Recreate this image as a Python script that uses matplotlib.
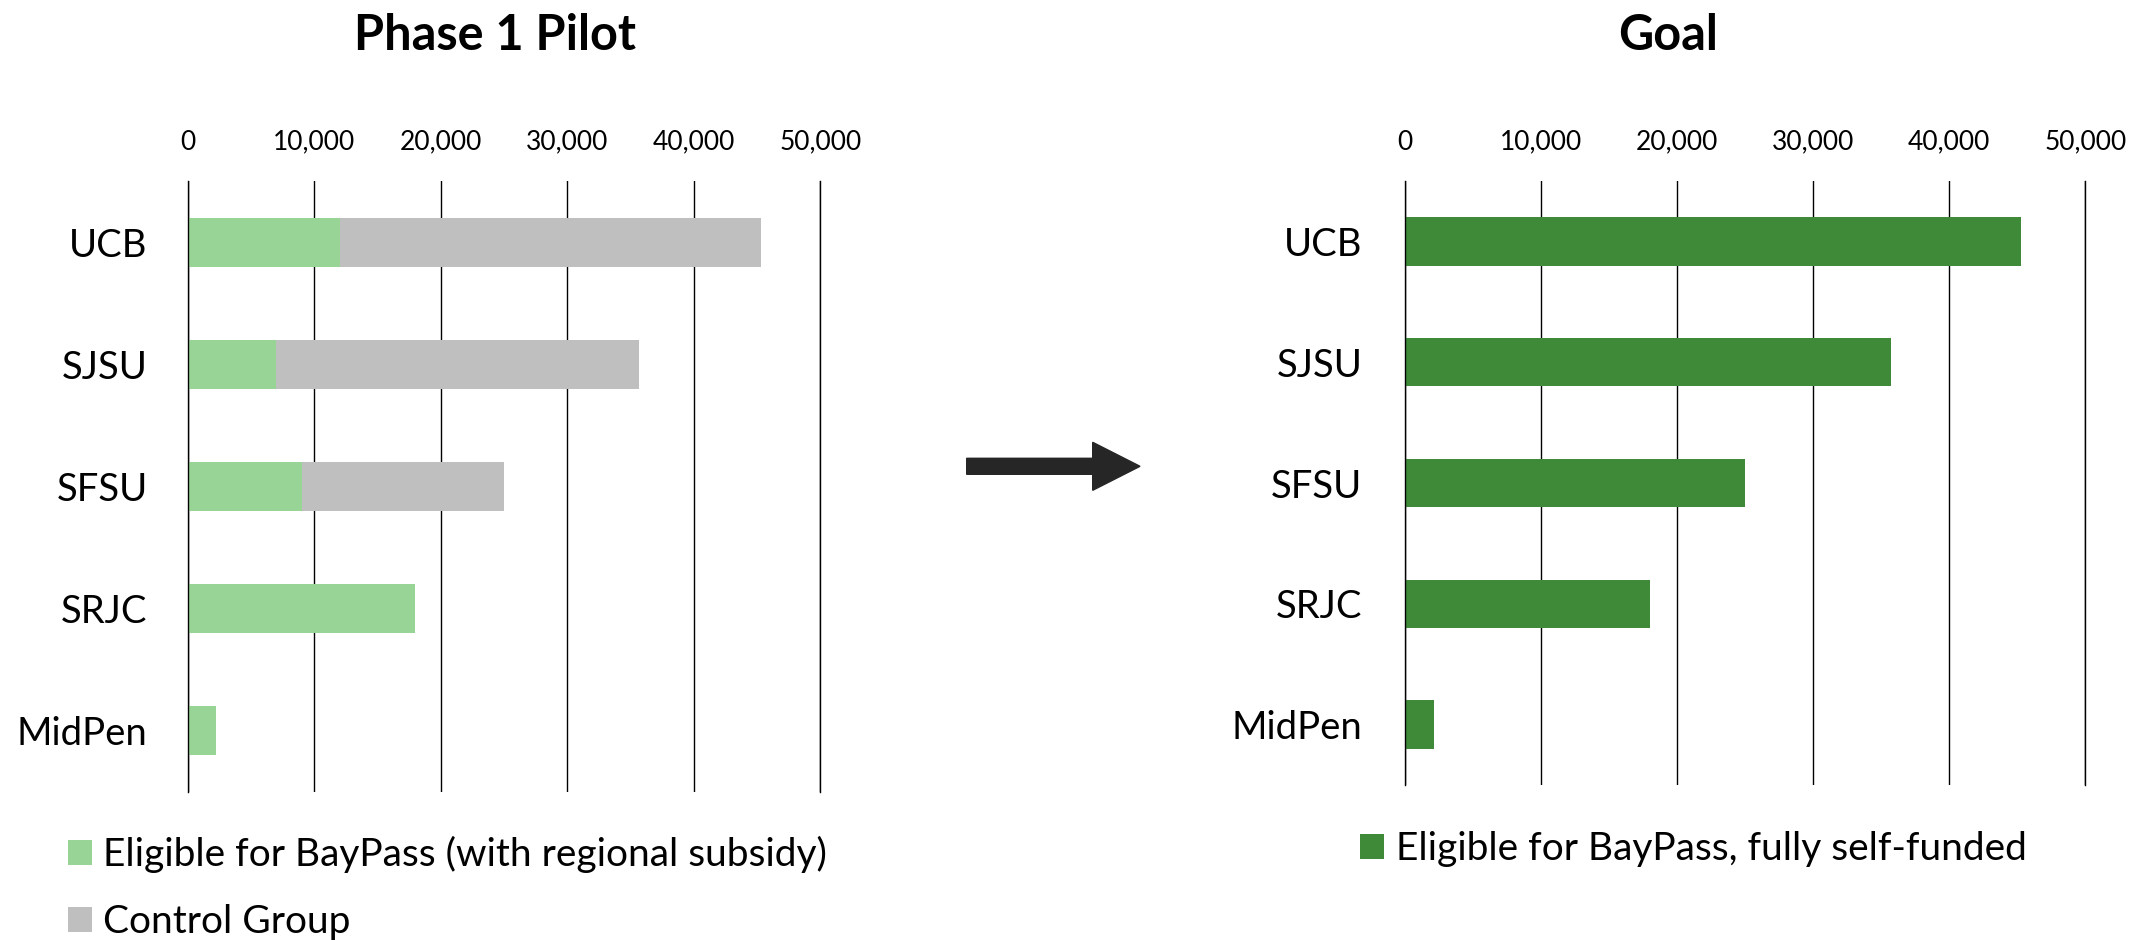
import matplotlib
matplotlib.use("Agg")
import matplotlib.pyplot as plt
from matplotlib.ticker import FuncFormatter
from matplotlib.patches import FancyArrow

plt.rcParams['font.family'] = ['Lato', 'DejaVu Sans']

# ---------------- data ----------------
categories = ["UCB", "SJSU", "SFSU", "SRJC", "MidPen"]
eligible_subsidy = [12000, 7000, 9000, 18000, 2200]
control_group = [33300, 28700, 16000, 0, 0]
eligible_self_funded = [45300, 35700, 25000, 18000, 2200]
x_ticks = [0, 10000, 20000, 30000, 40000, 50000]
titles = ["Phase 1 Pilot", "Goal"]
legend_left = ["Eligible for BayPass (with regional subsidy)", "Control Group"]
legend_right = ["Eligible for BayPass, fully self-funded"]

# ---------------- style ----------------
C_LIGHT = "#98D496"
C_GRAY = "#BFBFBF"
C_DARK = "#3E8A38"
W, H = 2134, 940
fig = plt.figure(figsize=(W / 100, H / 100), dpi=100)


def fx(px):
    return px / W


def fy(py):
    return 1 - py / H


def style_axes(ax, pad_px):
    ax.set_xlim(x_ticks[0], x_ticks[-1])
    ax.set_ylim(len(categories) - 0.5, -0.5)
    ax.set_xticks(x_ticks)
    ax.xaxis.set_major_formatter(FuncFormatter(lambda v, p: f"{v:,.0f}"))
    ax.xaxis.tick_top()
    ax.tick_params(axis='x', length=0, pad=19, labelsize=19, labelcolor='black')
    ax.set_yticks(range(len(categories)))
    ax.set_yticklabels(categories)
    ax.tick_params(axis='y', length=0, pad=pad_px * 0.72, labelsize=27.5)
    ax.grid(axis='x', color='black', linewidth=1.0)
    ax.set_axisbelow(True)
    for s in ['top', 'bottom']:
        ax.spines[s].set_visible(False)
    for s in ['left', 'right']:
        ax.spines[s].set_color('black')
        ax.spines[s].set_linewidth(1.0)
    ax.spines['right'].set_zorder(0.5)


# left panel
axL = fig.add_axes([fx(187.7), fy(792), fx(820.3 - 187.7), (792 - 181) / H])
b1 = axL.barh(categories, eligible_subsidy, height=0.4, color=C_LIGHT,
              label=legend_left[0])
b2 = axL.barh(categories, control_group, left=eligible_subsidy, height=0.4,
              color=C_GRAY, label=legend_left[1])
style_axes(axL, 40)

# right panel
axR = fig.add_axes([fx(1404.5), fy(785), fx(2085.4 - 1404.5), (785 - 181) / H])
b3 = axR.barh(categories, eligible_self_funded, height=0.4, color=C_DARK,
              label=legend_right[0])
style_axes(axR, 42)

# titles
fig.text(fx(495), fy(35), titles[0], fontsize=35, fontweight='bold',
         ha='center', va='center')
fig.text(fx(1668), fy(35), titles[1], fontsize=35, fontweight='bold',
         ha='center', va='center')

# legends
fs_leg = 28
fs_px = fs_leg / 0.72
leg1 = fig.legend(handles=[b1, b2], labels=legend_left, loc='center left',
                  bbox_to_anchor=(fx(67.7), fy(888)), frameon=False,
                  fontsize=fs_leg, handlelength=24 / fs_px, handleheight=24 / fs_px,
                  handletextpad=11.5 / fs_px, labelspacing=0.8,
                  borderpad=0, borderaxespad=0)
leg2 = fig.legend(handles=[b3], labels=legend_right, loc='center left',
                  bbox_to_anchor=(fx(1360), fy(849)), frameon=False,
                  fontsize=fs_leg, handlelength=24 / fs_px, handleheight=24 / fs_px,
                  handletextpad=11.5 / fs_px, borderpad=0, borderaxespad=0)

# arrow between panels
arrow = FancyArrow(fx(966.7), fy(466.3), fx(1140 - 966.7), 0,
                   width=16 / H, head_width=48 / H, head_length=fx(47.3),
                   length_includes_head=True, color='#262626',
                   transform=fig.transFigure, figure=fig)
fig.patches.append(arrow)

fig.savefig("out.png", dpi=100)
